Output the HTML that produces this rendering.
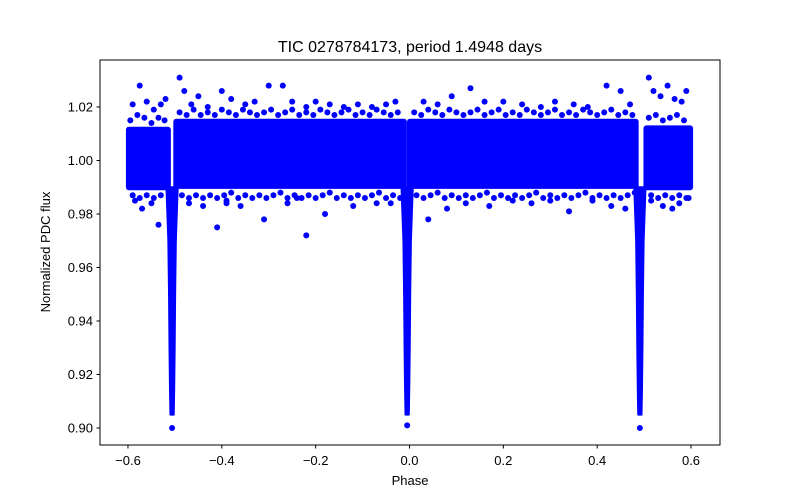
<!DOCTYPE html>
<html><head><meta charset="utf-8"><style>
body{margin:0;background:#fff;}
svg{display:block;font-family:"Liberation Sans","DejaVu Sans",sans-serif;}
</style></head><body>
<svg id="chart" width="800" height="500" viewBox="0 0 800 500" xmlns="http://www.w3.org/2000/svg">
<rect width="800" height="500" fill="#fff"/>
<text x="410" y="52" font-size="16" text-anchor="middle">TIC 0278784173, period 1.4948 days</text>
<g id="marks"></g>
<rect x="100" y="60" width="620" height="385" fill="none" stroke="#000" stroke-width="1"/>
<g id="axes"></g>
<text x="410" y="485" font-size="13" text-anchor="middle">Phase</text>
<text x="50" y="252" font-size="13" text-anchor="middle" transform="rotate(-90 50 252)">Normalized PDC flux</text>
</svg>
<script>
// dense out-of-eclipse segments: [phaseStart, phaseEnd, fluxLow, fluxHigh]
const segStart = [-0.598, -0.497, 0.001, 0.505];
const segEnd   = [-0.515, -0.012, 0.482, 0.598];
const segLow   = [0.9900, 0.9905, 0.9905, 0.9900];
const segHigh  = [1.0115, 1.0145, 1.0145, 1.0120];
// eclipse centers and minima
const eclPhase = [-0.506, -0.005, 0.491];
const eclDepth = [0.900, 0.901, 0.900];
// eclipse profile: flux levels and half-width (phase) at each level
const eclLevels = [0.990, 0.980, 0.970, 0.950, 0.930, 0.915, 0.905];
const eclHalf   = [0.012, 0.010, 0.008, 0.0065, 0.0055, 0.0045, 0.0035];
// sparse outlier points
const outPhase = [-0.59,-0.575,-0.56,-0.545,-0.53,-0.52,-0.585,-0.57,-0.55,-0.535,
  -0.49,-0.48,-0.465,-0.45,-0.43,-0.40,-0.38,-0.35,-0.33,-0.30,-0.27,-0.25,-0.22,-0.20,-0.17,-0.14,-0.11,-0.08,-0.05,-0.03,
  -0.47,-0.44,-0.41,-0.39,-0.36,-0.31,-0.26,-0.22,-0.18,-0.12,-0.07,-0.04,-0.24,-0.39,
  0.03,0.06,0.09,0.13,0.16,0.20,0.24,0.28,0.31,0.35,0.38,0.42,0.45,0.47,
  0.04,0.08,0.12,0.17,0.22,0.26,0.30,0.34,0.39,0.43,0.46,
  0.51,0.52,0.535,0.55,0.565,0.58,0.59,0.515,0.54,0.56,0.575,0.595];
const outFlux  = [1.021,1.028,1.022,1.019,1.021,1.023,0.985,0.982,0.984,0.976,
  1.031,1.026,1.021,1.024,1.020,1.026,1.023,1.021,1.022,1.028,1.028,1.022,1.020,1.022,1.021,1.020,1.021,1.020,1.021,1.022,
  0.984,0.983,0.975,0.984,0.983,0.978,0.984,0.972,0.980,0.983,0.984,0.984,0.986,0.985,
  1.022,1.021,1.024,1.027,1.022,1.022,1.021,1.020,1.022,1.021,1.020,1.028,1.026,1.021,
  0.978,0.982,0.984,0.983,0.985,0.984,0.985,0.981,0.985,0.983,0.982,
  1.031,1.026,1.024,1.028,1.023,1.022,1.026,0.985,0.983,0.982,0.984,0.986];
// near-band halo points (upper and lower fringe)
const haloPhase = [-0.595,-0.58,-0.565,-0.55,-0.535,-0.522,
  -0.49,-0.475,-0.46,-0.445,-0.43,-0.415,-0.40,-0.385,-0.37,-0.355,-0.34,-0.325,-0.31,-0.295,-0.28,-0.265,-0.25,-0.235,-0.22,-0.205,-0.19,-0.175,-0.16,-0.145,-0.13,-0.115,-0.10,-0.085,-0.07,-0.055,-0.04,-0.025,
  0.01,0.025,0.04,0.055,0.07,0.085,0.10,0.115,0.13,0.145,0.16,0.175,0.19,0.205,0.22,0.235,0.25,0.265,0.28,0.295,0.31,0.325,0.34,0.355,0.37,0.385,0.40,0.415,0.43,0.445,0.46,0.475,
  0.51,0.525,0.54,0.555,0.57,0.585,
  -0.59,-0.575,-0.56,-0.545,-0.53,
  -0.485,-0.47,-0.455,-0.44,-0.425,-0.41,-0.395,-0.38,-0.365,-0.35,-0.335,-0.32,-0.305,-0.29,-0.275,-0.26,-0.245,-0.23,-0.215,-0.20,-0.185,-0.17,-0.155,-0.14,-0.125,-0.11,-0.095,-0.08,-0.065,-0.05,-0.035,-0.02,
  0.015,0.03,0.045,0.06,0.075,0.09,0.105,0.12,0.135,0.15,0.165,0.18,0.195,0.21,0.225,0.24,0.255,0.27,0.285,0.30,0.315,0.33,0.345,0.36,0.375,0.39,0.405,0.42,0.435,0.45,0.465,0.48,
  0.515,0.53,0.545,0.56,0.575,0.59];
const haloFlux = [1.015,1.017,1.016,1.014,1.016,1.015,
  1.018,1.017,1.019,1.017,1.018,1.017,1.019,1.018,1.017,1.019,1.018,1.017,1.018,1.019,1.017,1.018,1.019,1.017,1.018,1.017,1.019,1.018,1.017,1.018,1.019,1.017,1.018,1.017,1.019,1.018,1.017,1.018,
  1.018,1.017,1.019,1.018,1.017,1.019,1.018,1.017,1.018,1.019,1.017,1.018,1.019,1.017,1.018,1.017,1.019,1.018,1.017,1.018,1.019,1.017,1.018,1.017,1.019,1.018,1.017,1.018,1.019,1.017,1.018,1.017,
  1.016,1.017,1.015,1.016,1.017,1.015,
  0.987,0.986,0.987,0.986,0.987,
  0.987,0.986,0.987,0.986,0.987,0.986,0.987,0.988,0.986,0.987,0.986,0.987,0.986,0.987,0.988,0.986,0.987,0.986,0.987,0.986,0.987,0.988,0.986,0.987,0.986,0.987,0.986,0.987,0.988,0.986,0.987,0.986,
  0.987,0.986,0.987,0.988,0.986,0.987,0.986,0.987,0.986,0.987,0.988,0.986,0.987,0.986,0.987,0.986,0.987,0.988,0.986,0.987,0.986,0.987,0.986,0.987,0.988,0.986,0.987,0.986,0.987,0.986,0.987,0.988,
  0.987,0.986,0.987,0.986,0.987,0.986];
// axis ticks
const xTicks = [-0.6,-0.4,-0.2,0.0,0.2,0.4,0.6];
const xTickLabels = ["\u22120.6","\u22120.4","\u22120.2","0.0","0.2","0.4","0.6"];
const yTicks = [0.90,0.92,0.94,0.96,0.98,1.00,1.02];
const yTickLabels = ["0.90","0.92","0.94","0.96","0.98","1.00","1.02"];

const NS="http://www.w3.org/2000/svg";
function xs(p){return 409.5 + p*469.2;}
function ys(f){return 160.5 - (f-1.0)*2675;}
const marks=document.getElementById('marks');
const axes=document.getElementById('axes');
function mk(tag,attrs,parent){const e=document.createElementNS(NS,tag);for(const k in attrs)e.setAttribute(k,attrs[k]);parent.appendChild(e);return e;}

for(let i=0;i<segStart.length;i++){
  const x0=xs(segStart[i]),x1=xs(segEnd[i]),y0=ys(segHigh[i]),y1=ys(segLow[i]);
  const r=mk('rect',{x:x0-3,y:y0-3,width:x1-x0+6,height:y1-y0+6,rx:3,fill:'#0000ff'},marks);
  
  
}
for(let i=0;i<eclPhase.length;i++){
  let left=[],right=[];
  for(let j=0;j<eclLevels.length;j++){
    const lv=Math.max(eclLevels[j],eclDepth[i]);
    left.push((xs(eclPhase[i]-eclHalf[j]))+','+ys(lv));
    right.unshift((xs(eclPhase[i]+eclHalf[j]))+','+ys(lv));
  }
  const pg=mk('polygon',{points:left.concat(right).join(' '),fill:'#0000ff',stroke:'#0000ff','stroke-width':2,'stroke-linejoin':'round'},marks);
  
  
  const c=mk('circle',{cx:xs(eclPhase[i]),cy:ys(eclDepth[i]),r:3,fill:'#0000ff'},marks);
  
  
}
for(let i=0;i<haloPhase.length;i++){
  const c=mk('circle',{cx:xs(haloPhase[i]),cy:ys(haloFlux[i]),r:3,fill:'#0000ff'},marks);
  
  
}
for(let i=0;i<outPhase.length;i++){
  const c=mk('circle',{cx:xs(outPhase[i]),cy:ys(outFlux[i]),r:3,fill:'#0000ff'},marks);
  
  
}
for(let i=0;i<xTicks.length;i++){
  const x=xs(xTicks[i]);
  const t=mk('line',{x1:x,x2:x,y1:445,y2:448.5,stroke:'#000'},axes);
  
  
  const l=mk('text',{x:x,y:465,'font-size':13,'text-anchor':'middle'},axes);
  l.textContent=xTickLabels[i];
  
  
}
for(let i=0;i<yTicks.length;i++){
  const y=ys(yTicks[i]);
  const t=mk('line',{x1:96.5,x2:100,y1:y,y2:y,stroke:'#000'},axes);
  
  
  const l=mk('text',{x:93,y:y+4.5,'font-size':13,'text-anchor':'end'},axes);
  l.textContent=yTickLabels[i];
  
  
}
</script>
</body></html>
